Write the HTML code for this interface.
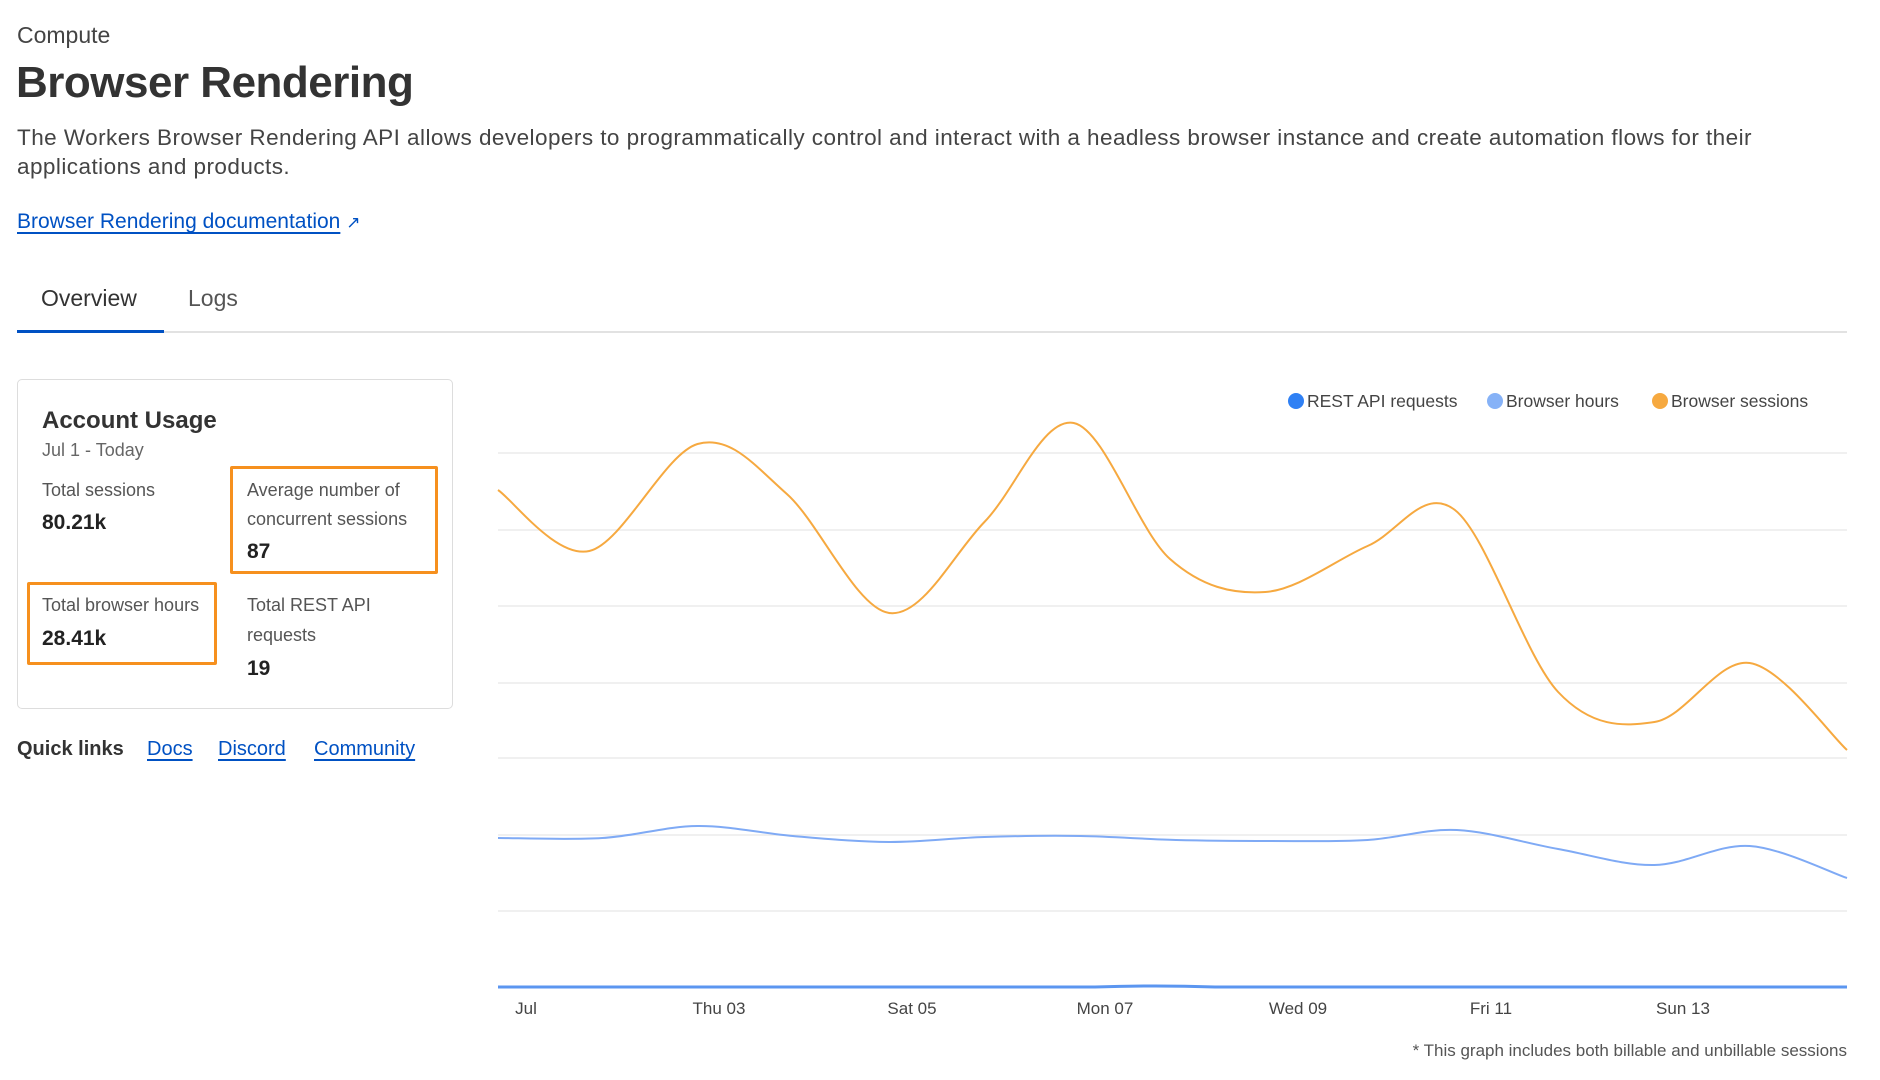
<!DOCTYPE html>
<html><head><meta charset="utf-8"><style>
*{margin:0;padding:0;box-sizing:border-box}
body{width:1880px;height:1080px;background:#fff;font-family:"Liberation Sans",sans-serif;color:#333;position:relative;overflow:hidden}
.a{position:absolute;white-space:nowrap}
a{color:#0051c3;text-decoration:underline;text-underline-offset:4px}
.lbl{font-size:18px;color:#555}
.val{font-size:21px;font-weight:bold;color:#222}
.ob{position:absolute;border:3px solid #f6901e;border-radius:2px}
</style></head><body>
<div class="a" style="left:17px;top:22px;font-size:23px;color:#444">Compute</div>
<div class="a" style="left:16px;top:58px;font-size:44px;font-weight:bold;color:#333;letter-spacing:-0.5px">Browser Rendering</div>
<div class="a" style="left:17px;top:123px;font-size:22.5px;line-height:29px;color:#444;white-space:normal;width:1810px;letter-spacing:0.45px">The Workers Browser Rendering API allows developers to programmatically control and interact with a headless browser instance and create automation flows for their applications and products.</div>
<div class="a" style="left:17px;top:210px;font-size:21px"><a>Browser Rendering documentation</a> <span style="color:#0051c3;font-size:17px">&#8599;</span></div>
<div class="a" style="left:41px;top:285px;font-size:23px;color:#333">Overview</div>
<div class="a" style="left:188px;top:285px;font-size:23px;color:#555">Logs</div>
<div class="a" style="left:17px;top:331px;width:1830px;height:2px;background:#e2e2e2"></div>
<div class="a" style="left:17px;top:330px;width:147px;height:3px;background:#0051c3"></div>
<div class="a" style="left:17px;top:379px;width:436px;height:330px;border:1px solid #ddd;border-radius:5px"></div>
<div class="a" style="left:42px;top:407px;font-size:24px;font-weight:bold;color:#333">Account Usage</div>
<div class="a lbl" style="left:42px;top:440px;color:#666">Jul 1 - Today</div>
<div class="a lbl" style="left:42px;top:480px">Total sessions</div>
<div class="a val" style="left:42px;top:511px">80.21k</div>
<div class="ob" style="left:230px;top:466px;width:208px;height:108px"></div>
<div class="a lbl" style="left:247px;top:480px">Average number of</div>
<div class="a lbl" style="left:247px;top:509px">concurrent sessions</div>
<div class="a val" style="left:247px;top:540px">87</div>
<div class="ob" style="left:27px;top:582px;width:190px;height:83px"></div>
<div class="a lbl" style="left:42px;top:595px">Total browser hours</div>
<div class="a val" style="left:42px;top:627px">28.41k</div>
<div class="a lbl" style="left:247px;top:595px">Total REST API</div>
<div class="a lbl" style="left:247px;top:625px">requests</div>
<div class="a val" style="left:247px;top:657px">19</div>
<div class="a" style="left:17px;top:738px;font-size:20px;font-weight:bold;color:#333">Quick links</div>
<div class="a" style="left:147px;top:738px;font-size:20px"><a>Docs</a></div>
<div class="a" style="left:218px;top:738px;font-size:20px"><a>Discord</a></div>
<div class="a" style="left:314px;top:738px;font-size:20px"><a>Community</a></div>
<svg class="a" style="left:0;top:0" width="1880" height="1080">
<g stroke="#ececec" stroke-width="1.5">
<line x1="498" x2="1847" y1="453" y2="453"/><line x1="498" x2="1847" y1="530" y2="530"/><line x1="498" x2="1847" y1="606" y2="606"/><line x1="498" x2="1847" y1="683" y2="683"/><line x1="498" x2="1847" y1="758" y2="758"/><line x1="498" x2="1847" y1="835" y2="835"/><line x1="498" x2="1847" y1="911" y2="911"/>
</g>
<path d="M498 987 L1095 987 Q1155 985 1215 987 L1847 987" stroke="#5b96f0" stroke-width="3" fill="none"/>
<path id="o" stroke="#f6a940" stroke-width="2" fill="none"/>
<path id="b" stroke="#7faaf5" stroke-width="2" fill="none"/>
<g font-size="17" fill="#444" text-anchor="middle" font-family="Liberation Sans">
<text x="526" y="1014">Jul</text><text x="719" y="1014">Thu 03</text><text x="912" y="1014">Sat 05</text><text x="1105" y="1014">Mon 07</text><text x="1298" y="1014">Wed 09</text><text x="1491" y="1014">Fri 11</text><text x="1683" y="1014">Sun 13</text>
</g>
<text x="1847" y="1056" font-size="17" fill="#555" text-anchor="end" font-family="Liberation Sans">* This graph includes both billable and unbillable sessions</text>
<g font-size="17.5" fill="#444" font-family="Liberation Sans">
<circle cx="1296" cy="401" r="8" fill="#2f80f4"/><text x="1307" y="407">REST API requests</text>
<circle cx="1495" cy="401" r="8" fill="#86b2f7"/><text x="1506" y="407">Browser hours</text>
<circle cx="1660" cy="401" r="8" fill="#f6a940"/><text x="1671" y="407">Browser sessions</text>
</g>
</svg>
<script>
const k=(1847-498)/(1857-498);
function cr(p){p=p.map(q=>[498+(q[0]-498)*k,q[1]]);let d="M"+p[0][0]+" "+p[0][1];for(let i=0;i<p.length-1;i++){const a=p[i-1]||p[i],b=p[i],c=p[i+1],e=p[i+2]||c;const t=6;d+=" C"+(b[0]+(c[0]-a[0])/t)+" "+(b[1]+(c[1]-a[1])/t)+" "+(c[0]-(e[0]-b[0])/t)+" "+(c[1]-(e[1]-b[1])/t)+" "+c[0]+" "+c[1];}return d;}
document.getElementById("o").setAttribute("d",cr([[498,490],[590,551],[699,444],[789,494],[892,613],[988,522],[1078,423],[1175,559],[1271,592],[1374,546],[1462,510],[1566,692],[1663,722],[1759,663],[1857,750]]));
document.getElementById("b").setAttribute("d",cr([[498,838],[603,838],[699,826],[795,836],[892,842],[988,837],[1085,836],[1181,840],[1277,841],[1374,840],[1464,830],[1566,849],[1663,865],[1759,846],[1857,878]]));
</script>
</body></html>
